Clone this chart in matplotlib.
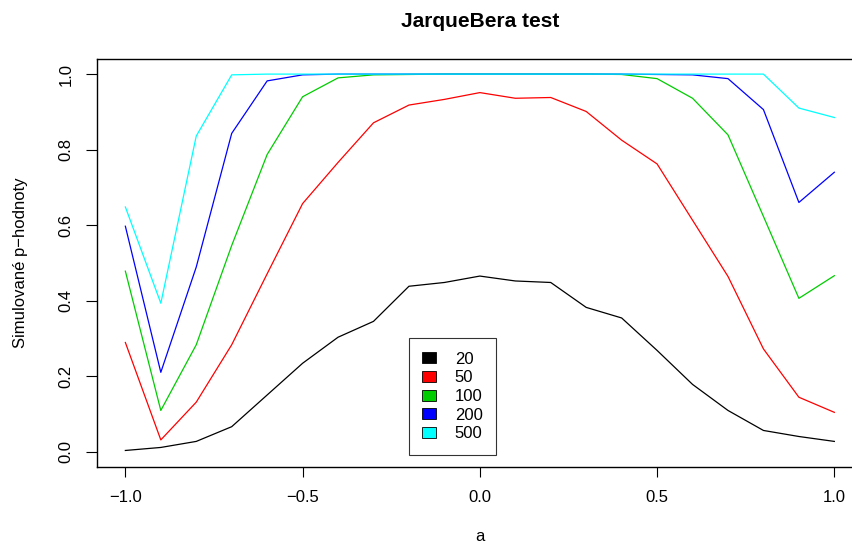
import matplotlib.pyplot as plt

plt.rcParams["font.family"] = ["Liberation Sans", "DejaVu Sans"]

a = [-1.0, -0.9, -0.8, -0.7, -0.6, -0.5, -0.4, -0.3, -0.2, -0.1, 0.0,
     0.1, 0.2, 0.3, 0.4, 0.5, 0.6, 0.7, 0.8, 0.9, 1.0]

p20 = [0.003, 0.011, 0.027, 0.066, 0.150, 0.234, 0.303, 0.345, 0.438, 0.448, 0.465,
       0.452, 0.448, 0.382, 0.354, 0.268, 0.178, 0.109, 0.056, 0.040, 0.027]
p50 = [0.289, 0.031, 0.131, 0.283, 0.471, 0.657, 0.766, 0.871, 0.918, 0.933, 0.951,
       0.936, 0.938, 0.901, 0.825, 0.762, 0.613, 0.464, 0.272, 0.144, 0.104]
p100 = [0.478, 0.109, 0.283, 0.546, 0.787, 0.940, 0.990, 0.998, 0.999, 1.0, 1.0,
        1.0, 1.0, 1.0, 0.999, 0.988, 0.936, 0.839, 0.623, 0.406, 0.466]
p200 = [0.597, 0.210, 0.489, 0.843, 0.982, 0.998, 1.0, 1.0, 1.0, 1.0, 1.0,
        1.0, 1.0, 1.0, 1.0, 0.999, 0.998, 0.988, 0.906, 0.660, 0.740]
p500 = [0.648, 0.393, 0.836, 0.998, 1.0, 1.0, 1.0, 1.0, 1.0, 1.0, 1.0,
        1.0, 1.0, 1.0, 1.0, 1.0, 1.0, 1.0, 1.0, 0.910, 0.885]

series = [("20", p20, "black"), ("50", p50, "#FF0000"), ("100", p100, "#00CD00"),
          ("200", p200, "#0000FF"), ("500", p500, "#00FFFF")]

fig = plt.figure(figsize=(8.53, 5.44), dpi=100)
ax = fig.add_axes([97 / 853, 77.3 / 544, 765.7 / 853, 407.7 / 544])

for lab, vals, col in series:
    ax.plot(a, vals, color=col, lw=0.9)

ax.set_xlim(-1.08, 1.08)
ax.set_ylim(-0.04, 1.04)
ax.set_xticks([-1.0, -0.5, 0.0, 0.5, 1.0])
ax.set_xticklabels(["\u22121.0", "\u22120.5", "0.0", "0.5", "1.0"])
ax.set_yticks([0.0, 0.2, 0.4, 0.6, 0.8, 1.0])
ax.set_yticklabels(["0.0", "0.2", "0.4", "0.6", "0.8", "1.0"], rotation=90, va="center")
ax.tick_params(axis="x", direction="out", length=7, width=0.8, pad=10, labelsize=12)
ax.tick_params(axis="y", direction="out", length=8, width=0.8, pad=9, labelsize=12)
for s in ax.spines.values():
    s.set_linewidth(1.0)

ax.set_title("JarqueBera test", fontsize=15, fontweight="bold", pad=23)
ax.set_xlabel("a", fontsize=12, labelpad=17)
ax.set_ylabel("Simulované p\u2212hodnoty", fontsize=12, labelpad=22)

handles = [plt.Rectangle((0, 0), 1, 1, facecolor=col, edgecolor="black", lw=0.6)
           for _, _, col in series]
leg = ax.legend(handles, [s[0] for s in series], loc="upper left",
                bbox_to_anchor=(-0.2, 0.30), bbox_transform=ax.transData,
                fontsize=12, frameon=True, fancybox=False, edgecolor="black",
                handlelength=0.85, handleheight=0.65, labelspacing=0.22,
                handletextpad=1.1, borderpad=0.8, borderaxespad=0)
leg.get_frame().set_linewidth(0.8)

fig.savefig("out.png", dpi=100)
